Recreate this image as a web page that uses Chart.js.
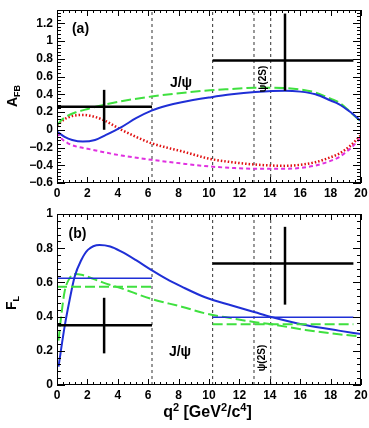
<!DOCTYPE html>
<html>
<head>
<meta charset="utf-8">
<script src="https://cdn.jsdelivr.net/npm/chart.js@4.4.1/dist/chart.umd.min.js"></script>
<style>
  html, body { margin: 0; padding: 0; background: #fff; }
  #wrap { position: relative; width: 369px; height: 428px; }
  #wrap canvas { position: absolute; left: 0; }
  #afbChart { top: 0; }
  #flChart { top: 200px; }
</style>
</head>
<body>
<div id="wrap">
  <canvas id="afbChart" width="369" height="200"></canvas>
  <canvas id="flChart" width="369" height="228"></canvas>
</div>
<script>
// measured bins (q^2 in GeV^2/c^4)
const binLo = [0, 10.24];
const binHi = [6.25, 19.5];
const binCenter = [3.1, 15.0];
const afbMeas = [0.26, 0.78];
const afbLow = [0.0, 0.44];
const afbHigh = [0.45, 1.31];
const flMeas = [0.35, 0.71];
const flLow = [0.185, 0.47];
const flHigh = [0.51, 0.925];
// model averages over the bins (F_L panel)
const flBinBlue = [0.625, 0.396];
const flBinGreen = [0.575, 0.355];
// charmonium veto boundaries
const vetoLines = [6.25, 10.24, 12.96, 14.06];

// tick labels
const xTicks = [0, 2, 4, 6, 8, 10, 12, 14, 16, 18, 20];
const afbTicks = [-0.6, -0.4, -0.2, 0, 0.2, 0.4, 0.6, 0.8, 1, 1.2];
const flTicks = [0, 0.2, 0.4, 0.6, 0.8, 1];

// A_FB model curves
const afbBlueX = [0, 0.5, 1, 1.7, 2.5, 3.14, 4.24, 5.2, 6.22, 7.2, 8.2, 10.07, 11.5, 13.04, 15.0, 16, 17, 18, 18.54, 19.3, 20];
const afbBlueY = [-0.02, -0.08, -0.115, -0.133, -0.115, -0.065, 0.03, 0.13, 0.215, 0.27, 0.31, 0.365, 0.4, 0.425, 0.44, 0.43, 0.40, 0.33, 0.29, 0.2, 0.1];
const afbGreenX = [0, 0.3, 0.72, 1.3, 2.03, 3.14, 4.5, 6.22, 8.2, 10.07, 11.5, 13.04, 15.0, 16, 17, 18, 18.54, 19.3, 20];
const afbGreenY = [0.05, 0.11, 0.16, 0.2, 0.235, 0.283, 0.33, 0.375, 0.415, 0.445, 0.46, 0.475, 0.47, 0.455, 0.42, 0.35, 0.31, 0.2, 0.09];
const afbRedX = [0, 0.5, 1, 1.7, 2.5, 3.14, 4.24, 5.2, 6.22, 7.2, 8.2, 10.07, 11.5, 13.04, 15.0, 16, 17, 18, 18.54, 19.3, 20];
const afbRedY = [0.05, 0.12, 0.155, 0.167, 0.145, 0.103, 0.0, -0.08, -0.152, -0.2, -0.242, -0.328, -0.365, -0.392, -0.407, -0.395, -0.366, -0.31, -0.271, -0.18, -0.06];
const afbMagentaX = [0, 0.3, 0.72, 1.3, 2.03, 3.0, 4.24, 6.22, 8.2, 10.07, 11.5, 13.04, 15.0, 16, 17, 18, 18.54, 19.3, 20];
const afbMagentaY = [-0.03, -0.1, -0.152, -0.19, -0.215, -0.25, -0.29, -0.339, -0.38, -0.414, -0.43, -0.44, -0.44, -0.43, -0.403, -0.35, -0.31, -0.21, -0.09];

// F_L model curves
const flBlueX = [0.1, 0.5, 0.83, 1.16, 1.6, 2.03, 2.8, 3.5, 4.24, 5.2, 6.22, 7.2, 8.2, 9.74, 11.5, 13.04, 14.1, 16.34, 18.54, 20];
const flBlueY = [0.107, 0.341, 0.497, 0.633, 0.731, 0.79, 0.819, 0.81, 0.78, 0.73, 0.672, 0.62, 0.575, 0.513, 0.465, 0.425, 0.398, 0.351, 0.318, 0.298];
const flGreenX = [0.1, 0.3, 0.5, 0.8, 1.16, 1.6, 2.03, 3.0, 4.24, 6.22, 8.2, 9.74, 11.5, 13.04, 14.1, 16.34, 18.54, 20];
const flGreenY = [0.26, 0.42, 0.546, 0.62, 0.649, 0.645, 0.633, 0.6, 0.565, 0.503, 0.458, 0.419, 0.39, 0.367, 0.355, 0.322, 0.297, 0.283];

const FONT = "'Liberation Sans', Arial, Helvetica, sans-serif";
const BLUE = "#1f2fd6";
const GREEN = "#3fe03f";
const RED = "#e01010";
const MAGENTA = "#e030e0";

function pts(xs, ys) {
  return xs.map((x, i) => ({ x: x, y: ys[i] }));
}

function curve(xs, ys, color, dash, width) {
  return {
    data: pts(xs, ys),
    showLine: true,
    borderColor: color,
    borderWidth: width || 2,
    borderDash: dash || [],
    pointRadius: 0,
    cubicInterpolationMode: "monotone",
    fill: false
  };
}

function segment(x0, y0, x1, y1, color, width, dash) {
  return {
    data: [{ x: x0, y: y0 }, { x: x1, y: y1 }],
    showLine: true,
    borderColor: color,
    borderWidth: width,
    borderDash: dash || [],
    pointRadius: 0,
    fill: false
  };
}

function crosses(vals, lows, highs) {
  const out = [];
  for (let i = 0; i < vals.length; i++) {
    out.push(segment(binLo[i], vals[i], binHi[i], vals[i], "#000", 2.5));
    out.push(segment(binCenter[i], lows[i], binCenter[i], highs[i], "#000", 2.5));
  }
  return out;
}

function vetoSets(ymin, ymax) {
  return vetoLines.map(v => segment(v, ymin, v, ymax, "#333", 1, [3, 3]));
}

function fmt(v) {
  const s = String(parseFloat(Number(v).toFixed(2)));
  return s.replace("-", "\u2212");
}

// inward ROOT style frame ticks
const frameTicks = {
  id: "frameTicks",
  afterDatasetsDraw(chart) {
    const { ctx, chartArea: a, scales: { x, y } } = chart;
    ctx.save();
    ctx.strokeStyle = "#000";
    ctx.lineWidth = 1;
    ctx.strokeRect(a.left + 0.5, a.top + 0.5, a.right - a.left - 1, a.bottom - a.top - 1);
    ctx.beginPath();
    const xStep = 0.4;
    for (let i = 0; x.min + i * xStep <= x.max + 1e-9; i++) {
      const px = Math.round(x.getPixelForValue(x.min + i * xStep)) + 0.5;
      const len = i % 5 === 0 ? 6 : 3;
      ctx.moveTo(px, a.bottom); ctx.lineTo(px, a.bottom - len);
      ctx.moveTo(px, a.top); ctx.lineTo(px, a.top + len);
    }
    const yStep = 0.04;
    for (let i = 0; y.min + i * yStep <= y.max + 1e-9; i++) {
      const py = Math.round(y.getPixelForValue(y.min + i * yStep)) + 0.5;
      const len = i % 5 === 0 ? 8 : 4;
      ctx.moveTo(a.left, py); ctx.lineTo(a.left + len, py);
      ctx.moveTo(a.right, py); ctx.lineTo(a.right - len, py);
    }
    ctx.stroke();
    ctx.restore();
  }
};

// text pieces: [text, size, dy]
const richText = {
  id: "richText",
  afterDraw(chart, args, opts) {
    const ctx = chart.ctx;
    (opts.items || []).forEach(item => {
      ctx.save();
      ctx.translate(item.x, item.y);
      if (item.rot) ctx.rotate(item.rot);
      ctx.fillStyle = "#000";
      ctx.textBaseline = "alphabetic";
      ctx.textAlign = "left";
      let w = 0;
      item.pieces.forEach(p => {
        ctx.font = "bold " + p[1] + "px " + FONT;
        w += ctx.measureText(p[0]).width;
      });
      let cx = -w / 2;
      const base = item.size * 0.36;
      item.pieces.forEach(p => {
        ctx.font = "bold " + p[1] + "px " + FONT;
        ctx.fillText(p[0], cx, base + (p[2] || 0));
        cx += ctx.measureText(p[0]).width;
      });
      ctx.restore();
    });
  }
};

function axisOpts(min, max, tickList, fit, pad) {
  return {
    type: "linear",
    min: min,
    max: max,
    afterFit: fit,
    afterBuildTicks: s => { s.ticks = tickList.map(v => ({ value: v })); },
    grid: { display: false, drawTicks: false },
    border: { display: false },
    ticks: {
      autoSkip: false,
      maxRotation: 0,
      padding: pad,
      color: "#000",
      font: { family: FONT, size: 12, weight: "bold" },
      callback: fmt
    }
  };
}

function buildOptions(yMin, yMax, yTicks, xHeight, padTop, items) {
  const xs = axisOpts(0, 20, xTicks, s => {
    s.height = xHeight; s.paddingLeft = 0; s.paddingRight = 0;
  }, 3);
  const ys = axisOpts(yMin, yMax, yTicks, s => {
    s.width = 57; s.paddingTop = 0; s.paddingBottom = 0;
  }, 4);
  return {
    responsive: false,
    animation: false,
    devicePixelRatio: 1,
    layout: { padding: { top: padTop, right: 8, left: 0, bottom: 0 } },
    plugins: {
      legend: { display: false },
      tooltip: { enabled: false },
      richText: { items: items }
    },
    scales: { x: xs, y: ys }
  };
}

const afbDatasets = [].concat(
  crosses(afbMeas, afbLow, afbHigh),
  [
    curve(afbBlueX, afbBlueY, BLUE, [], 2),
    curve(afbGreenX, afbGreenY, GREEN, [10, 4], 2),
    curve(afbRedX, afbRedY, RED, [1.5, 2], 2.5),
    curve(afbMagentaX, afbMagentaY, MAGENTA, [4, 3], 2)
  ],
  vetoSets(-0.6, 1.35)
);

new Chart(document.getElementById("afbChart"), {
  type: "scatter",
  data: { datasets: afbDatasets },
  options: buildOptions(-0.6, 1.35, afbTicks, 17, 10, [
    { x: 80.5, y: 27.5, size: 14, pieces: [["(a)", 14]] },
    { x: 181, y: 82, size: 14, pieces: [["J/\u03c8", 14]] },
    { x: 262, y: 79, size: 10, rot: -Math.PI / 2, pieces: [["\u03c8(2S)", 10]] },
    { x: 12, y: 96, size: 14, rot: -Math.PI / 2, pieces: [["A", 14], ["FB", 9, 3]] }
  ]),
  plugins: [frameTicks, richText]
});

const flDatasets = [].concat(
  crosses(flMeas, flLow, flHigh),
  binLo.map((lo, i) => segment(lo, flBinBlue[i], binHi[i], flBinBlue[i], BLUE, 1.5)),
  binLo.map((lo, i) => segment(lo, flBinGreen[i], binHi[i], flBinGreen[i], GREEN, 2, [10, 4])),
  [
    curve(flBlueX, flBlueY, BLUE, [], 2),
    curve(flGreenX, flGreenY, GREEN, [10, 4], 2)
  ],
  vetoSets(0, 1)
);

new Chart(document.getElementById("flChart"), {
  type: "scatter",
  data: { datasets: flDatasets },
  options: buildOptions(0, 1, flTicks, 43, 14, [
    { x: 77.5, y: 32.5, size: 14, pieces: [["(b)", 14]] },
    { x: 180, y: 151, size: 14, pieces: [["J/\u03c8", 14]] },
    { x: 261, y: 158, size: 10, rot: -Math.PI / 2, pieces: [["\u03c8(2S)", 10]] },
    { x: 11, y: 103, size: 14, rot: -Math.PI / 2, pieces: [["F", 14], ["L", 9, 3]] },
    { x: 207.5, y: 211, size: 16, pieces: [["q", 16], ["2", 11, -6], [" [GeV", 16], ["2", 11, -6], ["/c", 16], ["4", 11, -6], ["]", 16]] }
  ]),
  plugins: [frameTicks, richText]
});
</script>
</body>
</html>
